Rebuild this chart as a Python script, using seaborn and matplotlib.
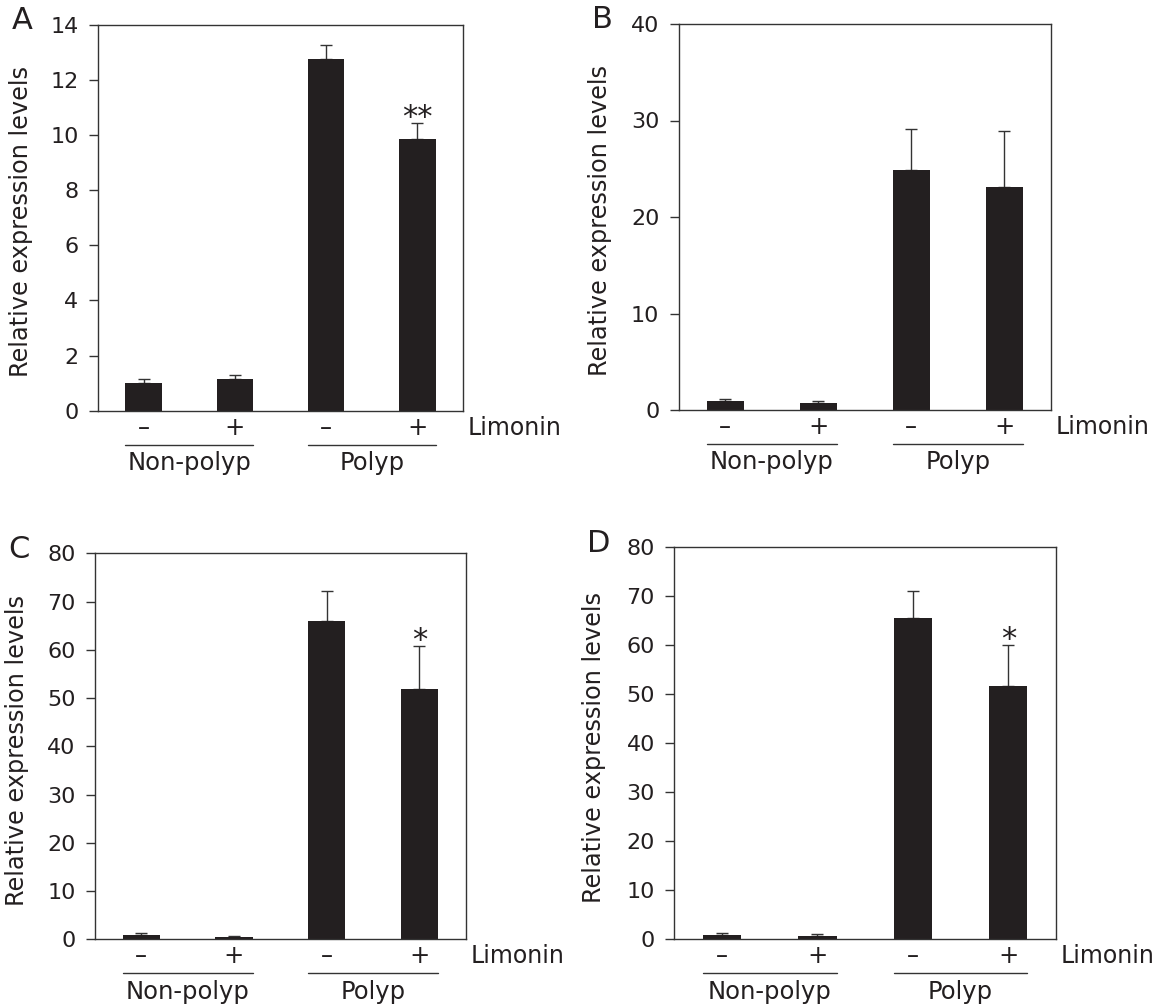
import matplotlib
matplotlib.use("Agg")
import matplotlib.pyplot as plt
import matplotlib.transforms as mtransforms
import numpy as np
import pandas as pd
import seaborn as sns

# ---------------- data ----------------
groups = ["Non-polyp", "Non-polyp", "Polyp", "Polyp"]
limonin = ["\u2013", "+", "\u2013", "+"]

means_A = [1.00, 1.15, 12.75, 9.85]
err_A = [0.15, 0.13, 0.50, 0.58]
sig_A = ["", "", "", "**"]

means_B = [0.93, 0.76, 24.9, 23.1]
err_B = [0.24, 0.20, 4.25, 5.80]
sig_B = ["", "", "", ""]

means_C = [0.83, 0.48, 65.9, 51.8]
err_C = [0.41, 0.20, 6.40, 8.95]
sig_C = ["", "", "", "*"]

means_D = [0.88, 0.67, 65.6, 51.7]
err_D = [0.34, 0.41, 5.50, 8.35]
sig_D = ["", "", "", "*"]

panel_letters = ["A", "B", "C", "D"]
y_max = [14, 40, 80, 80]
y_step = [2, 10, 10, 10]
ylabel_text = "Relative expression levels"
treatment_label = "Limonin"

# ---------------- style ----------------
sns.set_theme(style="white")
plt.rcParams["font.family"] = ["DejaVu Sans"]
BAR = "#231f20"
LINE = "#333333"
TXT = "#231f20"

W, H = 1154, 1007
fig = plt.figure(figsize=(W / 100, H / 100), dpi=100)

# axes rectangles in pixels: left, top, right, bottom
rects = [(98, 24.5, 463, 410.7),
         (678.7, 24, 1050.7, 410),
         (95, 553.4, 465.7, 939.3),
         (674.3, 547, 1056, 939.3)]

all_means = [means_A, means_B, means_C, means_D]
all_errs = [err_A, err_B, err_C, err_D]
all_sigs = [sig_A, sig_B, sig_C, sig_D]

for i in range(4):
    l, t, r, b = rects[i]
    ax = fig.add_axes([l / W, 1 - b / H, (r - l) / W, (b - t) / H])
    cond = [f"{g} {s}" for g, s in zip(groups, limonin)]
    df = pd.DataFrame({"cond": cond, "value": all_means[i],
                       "err": all_errs[i], "group": groups,
                       "limonin": limonin, "sig": all_sigs[i]})
    sns.barplot(data=df, x="cond", y="value", order=cond, color=BAR,
                width=0.4, errorbar=None, saturation=1, ax=ax,
                edgecolor=BAR, linewidth=0)
    bars = ax.patches
    xs = np.array([p.get_x() + p.get_width() / 2 for p in bars])
    hs = np.array([p.get_height() for p in bars])
    errs = np.array(df["err"])
    ax.errorbar(xs, hs, yerr=[np.zeros_like(errs), errs], fmt="none",
                ecolor=LINE, elinewidth=1.0, capsize=4.4, capthick=1.0,
                zorder=1)
    for p in bars:
        p.set_zorder(2)

    # significance marks
    for x, h, e, s in zip(xs, hs, errs, df["sig"]):
        if s:
            ax.annotate(s, xy=(x, h + e), xytext=(0, -3),
                        textcoords="offset pixels", ha="center",
                        va="baseline", fontsize=22, color=TXT)

    ax.set_xlim(-0.5, 3.5)
    ax.set_ylim(0, y_max[i])
    ax.set_yticks(np.arange(0, y_max[i] + 0.1, y_step[i]))
    ax.set_xticks(range(4))
    ax.set_xticklabels(df["limonin"])
    ax.tick_params(axis="x", length=0, pad=12.3, labelsize=17.5,
                   labelcolor=TXT)
    for lab in ax.get_xticklabels():
        lab.set_va("center")
    ax.tick_params(axis="y", left=True, length=6.5, width=1.0,
                   color=LINE, pad=7.5, labelsize=16, labelcolor=TXT,
                   direction="out")
    for sp in ax.spines.values():
        sp.set_visible(True)
        sp.set_color(LINE)
        sp.set_linewidth(1.0)
    ax.set_xlabel("")
    ax.set_ylabel(ylabel_text, fontsize=17.3, color=TXT)
    ax.yaxis.set_label_coords(-0.178, 0.49)

    # Limonin label
    ax.annotate(treatment_label, xy=(1, 0), xycoords="axes fraction",
                xytext=(5, -17), textcoords="offset pixels", ha="left",
                va="center", fontsize=17, color=TXT)

    # group underlines and labels
    line_tr = mtransforms.offset_copy(ax.get_xaxis_transform(), fig=fig,
                                      x=0, y=-34, units="dots")
    half = bars[0].get_width() / 2
    for g in ["Non-polyp", "Polyp"]:
        idx = [k for k, gg in enumerate(groups) if gg == g]
        x0 = xs[idx[0]] - half
        x1 = xs[idx[-1]] + half
        ax.plot([x0, x1], [0, 0], color=LINE, lw=1.0, transform=line_tr,
                clip_on=False)
        ax.annotate(g, xy=((x0 + x1) / 2, 0),
                    xycoords=("data", "axes fraction"), xytext=(0, -52.5),
                    textcoords="offset pixels", ha="center", va="center",
                    fontsize=17.5, color=TXT)

    # panel letter
    fig.text((l - 76) / W, 1 - (t - 4) / H, panel_letters[i], fontsize=22,
             ha="center", va="center", color=TXT)

fig.savefig("out.png", dpi=100, facecolor="white")
